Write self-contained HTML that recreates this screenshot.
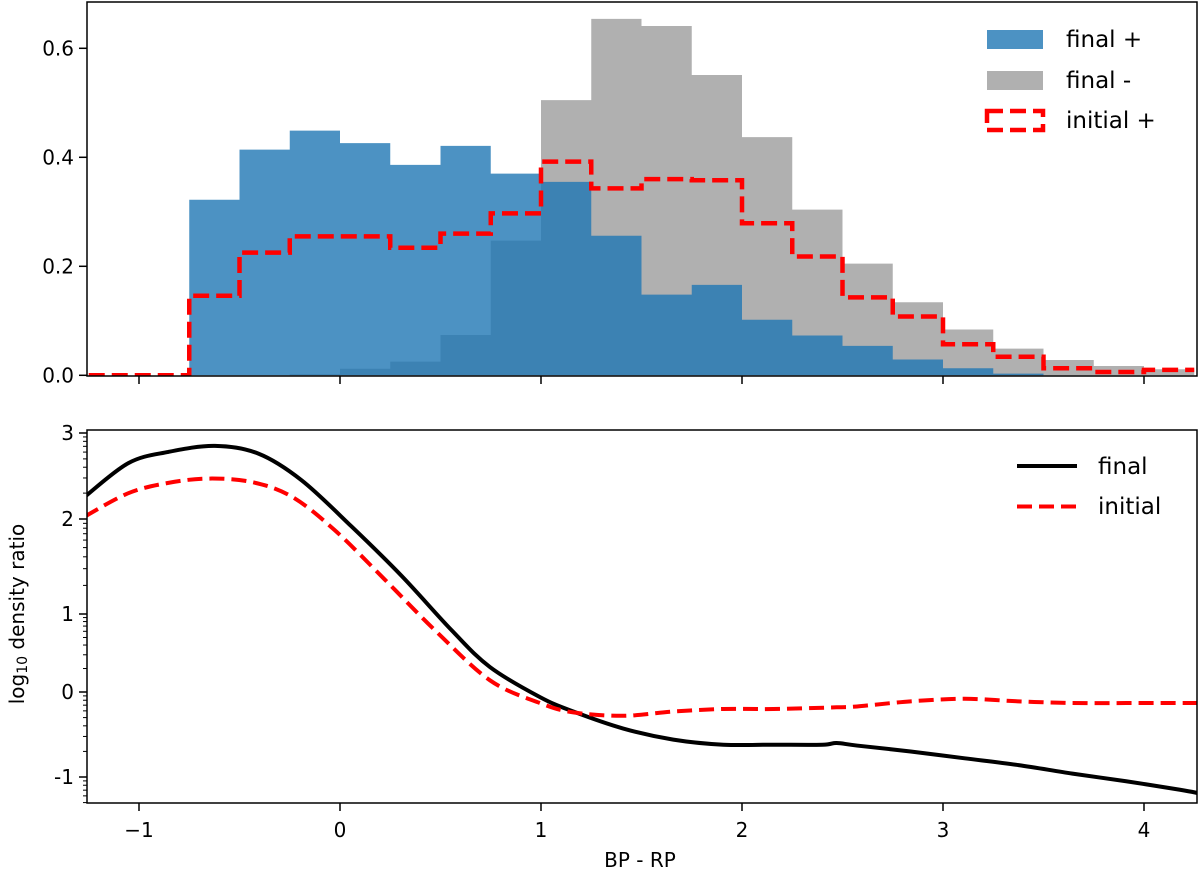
<!DOCTYPE html>
<html><head><meta charset="utf-8"><style>
html,body{margin:0;padding:0;background:#fff;}
svg{display:block;font-family:"DejaVu Sans","Liberation Sans",sans-serif;}
</style></head><body>
<svg id="chart" width="1200" height="882" viewBox="0 0 1200 882" xmlns="http://www.w3.org/2000/svg"></svg>
<script>
// ---- data ----
const binEdgesStart = -1.25;
const binWidth = 0.25;
const finalPlus = [0,0,0.322,0.414,0.449,0.426,0.386,0.421,0.370,0.355,0.256,0.148,0.166,0.102,0.073,0.054,0.029,0.013,0.003,0,0,0];
const finalMinus = [0,0,0,0,0.002,0.012,0.025,0.074,0.247,0.505,0.654,0.641,0.551,0.437,0.304,0.205,0.134,0.084,0.049,0.028,0.017,0.011];
const initialPlus = [0,0,0.146,0.225,0.255,0.255,0.234,0.260,0.297,0.392,0.343,0.360,0.358,0.279,0.218,0.143,0.108,0.057,0.034,0.013,0.006,0.010];
const topTicks = [0,0.2,0.4,0.6];
const topTickLabels = ["0.0","0.2","0.4","0.6"];
const xTicks = [-1,0,1,2,3,4];
const xTickLabels = ["\u22121","0","1","2","3","4"];
const finalX = [-1.269,-1.053,-0.854,-0.622,-0.406,-0.191,0.058,0.307,0.556,0.746,0.995,1.161,1.409,1.658,1.907,2.156,2.40,2.471,2.572,2.839,3.108,3.376,3.644,3.911,4.179,4.27];
const finalRatio = [2.26,2.65,2.78,2.85,2.76,2.45,1.92,1.40,0.79,0.32,-0.06,-0.23,-0.43,-0.56,-0.62,-0.62,-0.62,-0.60,-0.63,-0.70,-0.78,-0.86,-0.96,-1.05,-1.15,-1.19];
const initialX = [-1.269,-1.053,-0.854,-0.655,-0.439,-0.24,-0.025,0.224,0.473,0.746,0.995,1.161,1.409,1.658,1.907,2.156,2.471,2.572,2.839,3.108,3.376,3.644,3.911,4.179,4.27];
const initialRatio = [2.03,2.30,2.42,2.47,2.43,2.26,1.88,1.36,0.79,0.15,-0.13,-0.24,-0.28,-0.23,-0.20,-0.20,-0.18,-0.17,-0.11,-0.08,-0.11,-0.13,-0.13,-0.13,-0.13];
const botTicks = [3,2,1,0,-1];
const botTickLabels = ["3","2","1","0","-1"];

// ---- axes ----
const NS="http://www.w3.org/2000/svg";
const svg=document.getElementById('chart');
const L=87,R=1197, T1=2,B1=376, T2=430,B2=803;
const X=v=>340+201*v;
const Y1=v=>375.3-545*v;
const bp=[433,519,614,692,777];
function Y2(v){
  if(v>=2) return bp[0]+(3-v)*(bp[1]-bp[0]);
  if(v>=1) return bp[1]+(2-v)*(bp[2]-bp[1]);
  if(v>=0) return bp[2]+(1-v)*(bp[3]-bp[2]);
  return bp[3]+(0-v)*(bp[4]-bp[3]);
}
function el(tag,attrs,parent){const e=document.createElementNS(NS,tag);for(const k in attrs)e.setAttribute(k,attrs[k]);(parent||svg).appendChild(e);return e;}

const defs=el('defs',{});
const c1=el('clipPath',{id:'c1'},defs);el('rect',{x:L,y:T1,width:R-L,height:B1-T1},c1);
const c2=el('clipPath',{id:'c2'},defs);el('rect',{x:L,y:T2,width:R-L,height:B2-T2},c2);

function histPath(vals){
  let d='M'+X(binEdgesStart)+','+Y1(0);
  vals.forEach((v,i)=>{
    const x0=X(binEdgesStart+i*binWidth), x1=X(binEdgesStart+(i+1)*binWidth);
    d+='L'+x0+','+Y1(v)+'L'+x1+','+Y1(v);
  });
  d+='L'+X(binEdgesStart+vals.length*binWidth)+','+Y1(0)+'Z';
  return d;
}

// top panel
const g1=el('g',{'clip-path':'url(#c1)'});


const hm=el('path',{d:histPath(finalMinus),fill:'#b0b0b0'},g1);


const hp=el('path',{d:histPath(finalPlus),fill:'#1f77b4','fill-opacity':0.8},g1);


let d='';
initialPlus.forEach((v,i)=>{
  const x0=X(binEdgesStart+i*binWidth), x1=X(binEdgesStart+(i+1)*binWidth);
  d+=(i===0?'M':'L')+x0+','+Y1(v)+'L'+x1+','+Y1(v);
});
const step=el('path',{d:d,fill:'none',stroke:'#ff0000','stroke-width':4.5,'stroke-dasharray':'16,7'},g1);



el('rect',{x:L,y:T1,width:R-L,height:B1-T1,fill:'none',stroke:'#000','stroke-width':1.5});
topTicks.forEach((t,i)=>{
  const y=Y1(t);
  el('line',{x1:L-8,x2:L,y1:y,y2:y,stroke:'#000','stroke-width':1.5});
  const tx=el('text',{x:L-13,y:y+7,'text-anchor':'end','font-size':20,fill:'#000'});
  tx.textContent=topTickLabels[i];
  
  
});
xTicks.forEach(t=>{el('line',{x1:X(t),x2:X(t),y1:B1,y2:B1+8,stroke:'#000','stroke-width':1.5});});

// top legend
const lg1=el('g',{});


el('rect',{x:987,y:30,width:56,height:19,fill:'#1f77b4','fill-opacity':0.8},lg1);
el('rect',{x:987,y:71,width:56,height:19,fill:'#b0b0b0'},lg1);
el('rect',{x:987,y:111,width:56,height:19,fill:'none',stroke:'#ff0000','stroke-width':4.5,'stroke-dasharray':'16,7'},lg1);
[['final +',47],['final -',88],['initial +',128]].forEach(a=>{
  const t=el('text',{x:1066,y:a[1],'font-size':23,fill:'#000'},lg1);t.textContent=a[0];
});

// bottom panel
function smooth(xs,ys){
  const pts=xs.map((x,i)=>[X(x),Y2(ys[i])]);
  let p='M'+pts[0][0]+','+pts[0][1];
  for(let i=0;i<pts.length-1;i++){
    const p0=pts[Math.max(0,i-1)],p1=pts[i],p2=pts[i+1],p3=pts[Math.min(pts.length-1,i+2)];
    const c1x=p1[0]+(p2[0]-p0[0])/6,c1y=p1[1]+(p2[1]-p0[1])/6;
    const c2x=p2[0]-(p3[0]-p1[0])/6,c2y=p2[1]-(p3[1]-p1[1])/6;
    p+='C'+c1x+','+c1y+' '+c2x+','+c2y+' '+p2[0]+','+p2[1];
  }
  return p;
}
const g2=el('g',{'clip-path':'url(#c2)'});


const lf=el('path',{d:smooth(finalX,finalRatio),fill:'none',stroke:'#000','stroke-width':4},g2);


const li=el('path',{d:smooth(initialX,initialRatio),fill:'none',stroke:'#ff0000','stroke-width':4,'stroke-dasharray':'15,7'},g2);



el('rect',{x:L,y:T2,width:R-L,height:B2-T2,fill:'none',stroke:'#000','stroke-width':1.5});
botTicks.forEach((t,i)=>{
  const y=Y2(t);
  el('line',{x1:L-8,x2:L,y1:y,y2:y,stroke:'#000','stroke-width':1.5});
  const tx=el('text',{x:L-13,y:y+7,'text-anchor':'end','font-size':20,fill:'#000'});
  tx.textContent=botTickLabels[i];
  
  
});
for(let n=-2;n<=2;n++){
  for(let k=2;k<=9;k++){
    const v=n+Math.log10(k);
    const y=Y2(v);
    if(y<T2||y>B2)continue;
    el('line',{x1:L-4,x2:L,y1:y,y2:y,stroke:'#000','stroke-width':1});
  }
}
xTicks.forEach((t,i)=>{
  el('line',{x1:X(t),x2:X(t),y1:B2,y2:B2+8,stroke:'#000','stroke-width':1.5});
  const tx=el('text',{x:X(t),y:837,'text-anchor':'middle','font-size':20,fill:'#000'});
  tx.textContent=xTickLabels[i];
  
  
});

// bottom legend
const lg2=el('g',{});


el('line',{x1:1017,x2:1077,y1:466,y2:466,stroke:'#000','stroke-width':4},lg2);
el('line',{x1:1017,x2:1077,y1:506.5,y2:506.5,stroke:'#ff0000','stroke-width':4,'stroke-dasharray':'15,7'},lg2);
const t1=el('text',{x:1098,y:474,'font-size':23,fill:'#000'},lg2);t1.textContent='final';
const t2=el('text',{x:1098,y:514,'font-size':23,fill:'#000'},lg2);t2.textContent='initial';
</script>
<div style="position:absolute;left:0;top:0;width:1200px;height:882px;pointer-events:none;font-family:'DejaVu Sans','Liberation Sans',sans-serif;">
  <div style="position:absolute;left:590px;top:848px;width:100px;text-align:center;font-size:20px;">BP - RP</div>
  <div style="position:absolute;left:-107px;top:601px;width:250px;text-align:center;font-size:20px;transform:rotate(-90deg);white-space:nowrap;">log<sub style="font-size:14px;vertical-align:-3px;">10</sub> density ratio</div>
</div>
</body></html>
